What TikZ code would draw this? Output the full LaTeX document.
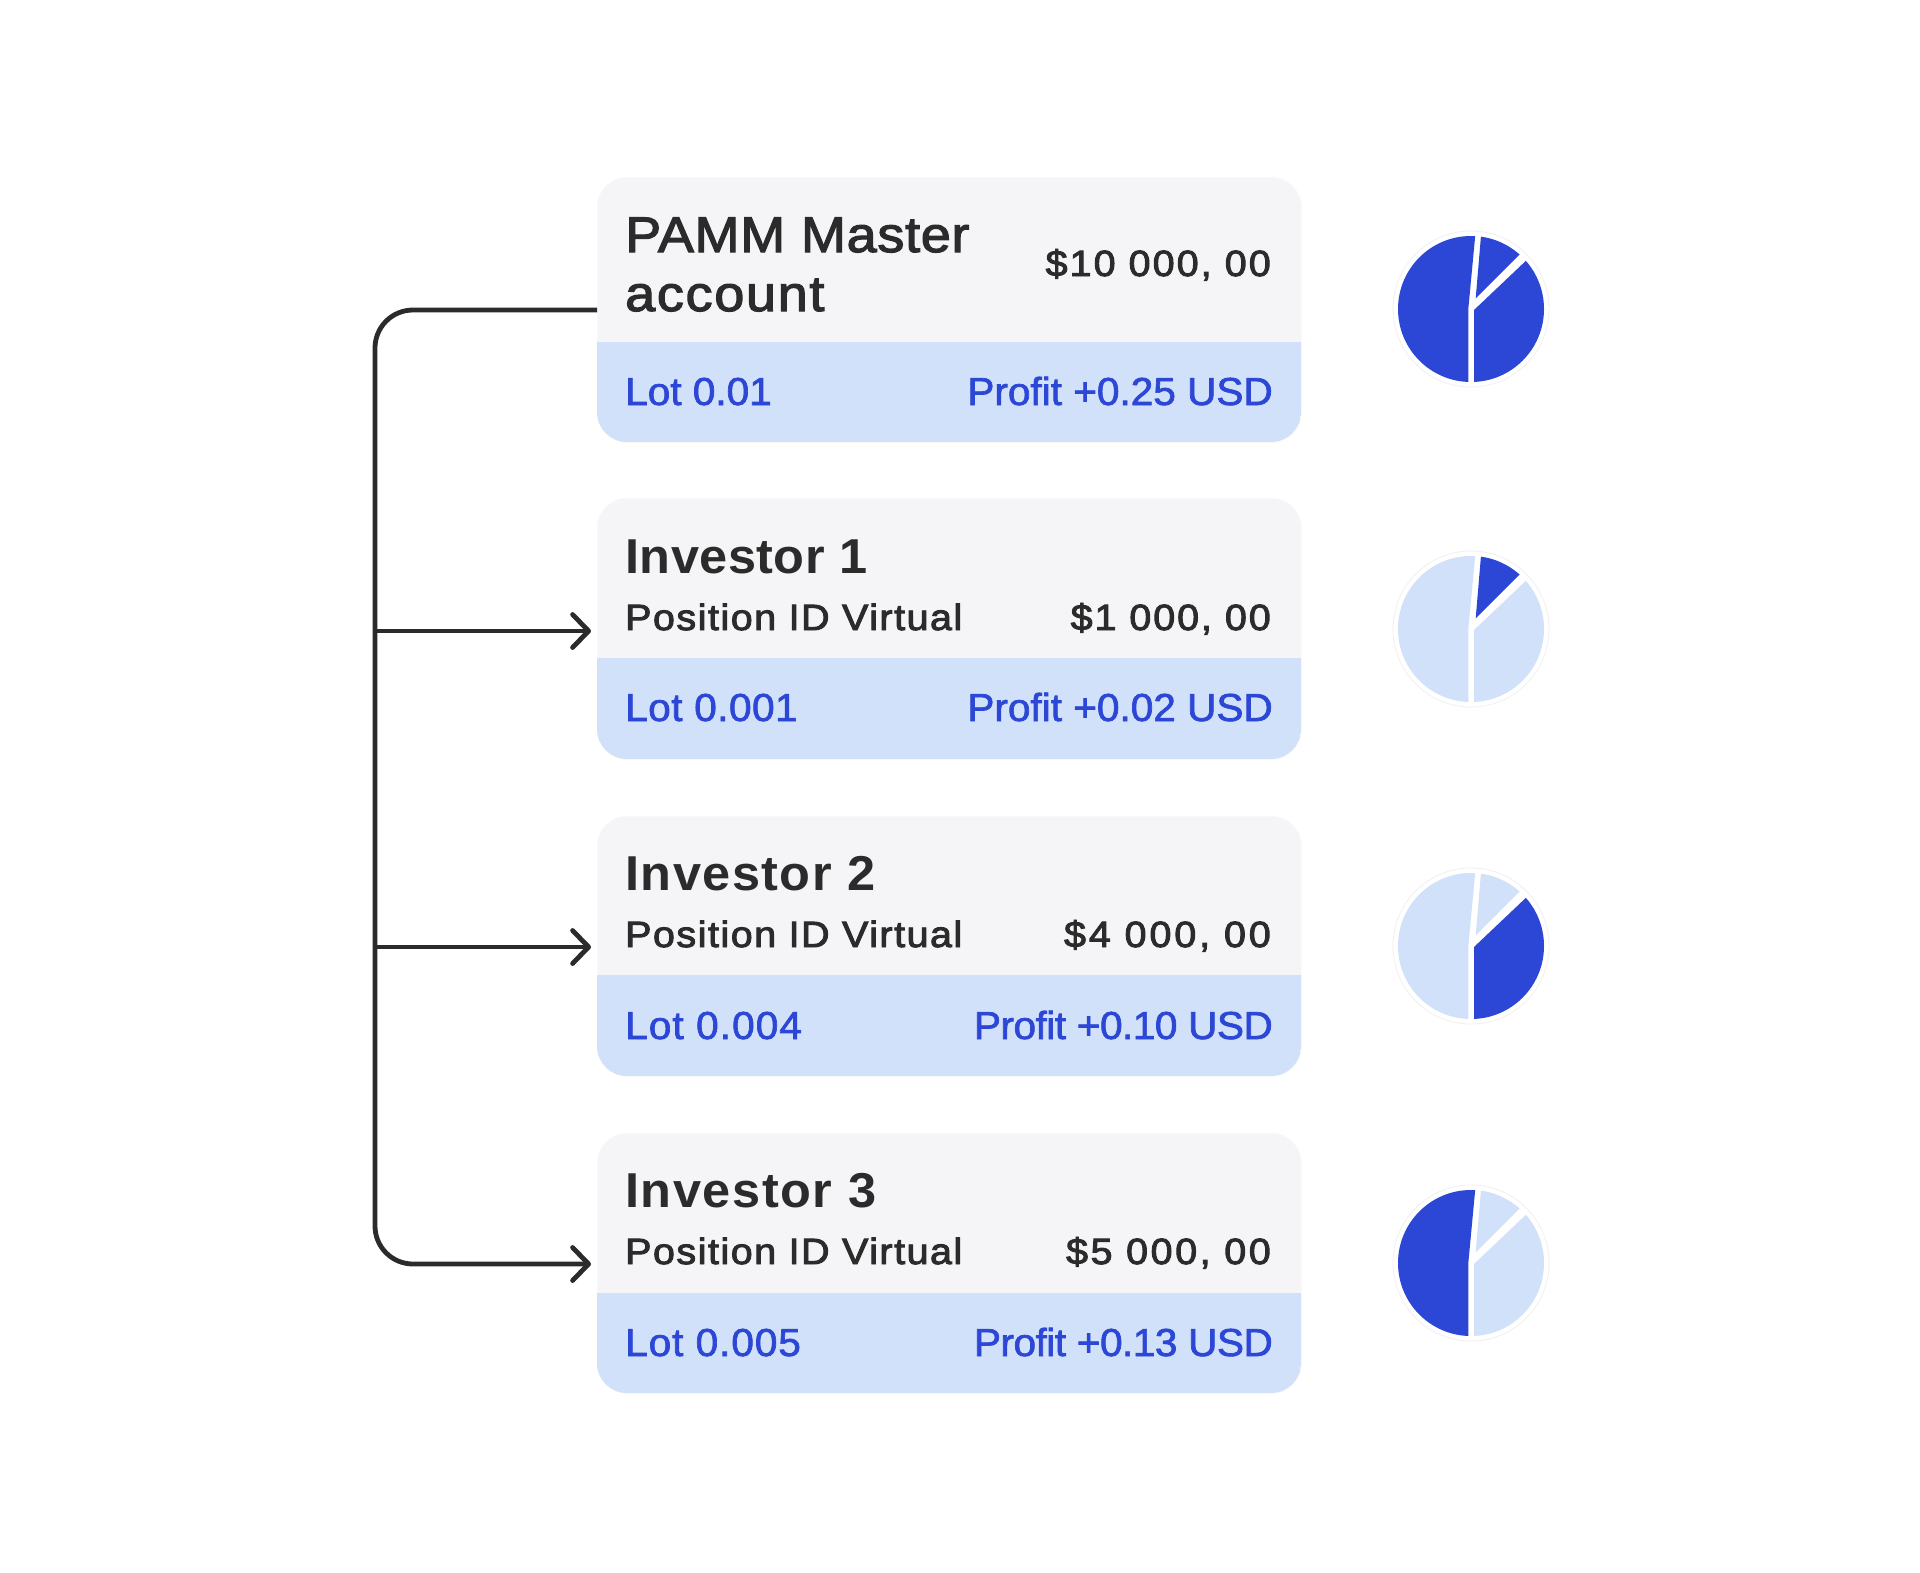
\documentclass[tikz,border=0pt]{standalone}
\usepackage{fontspec}
\setmainfont{Liberation Sans}
\newfontfamily\fhead[FakeStretch=1.08,LetterSpace=1.4,FakeBold=2.4]{Liberation Sans}
\newfontfamily\fbold[FakeStretch=1.03,LetterSpace=1]{Liberation Sans Bold}
\newfontfamily\fsub[FakeStretch=1.08,LetterSpace=4.2,FakeBold=2.6]{Liberation Sans}
\newfontfamily\flot[FakeStretch=1.04,FakeBold=1.8]{Liberation Sans}
\usetikzlibrary{arrows.meta}
\definecolor{cardbg}{HTML}{F5F5F8}
\definecolor{bandbg}{HTML}{D1E1F9}
\definecolor{deep}{HTML}{2C47D6}
\definecolor{ink}{HTML}{2B2B2B}
\newcommand{\track}[2]{{\addfontfeature{LetterSpace=#1}#2}}
\tikzset{
  cardbox/.style={draw=cardbg!70!white,line width=.6pt,fill=cardbg,rounded corners=30pt,minimum width=704pt,inner sep=0pt,anchor=north west},
  head/.style={font=\fhead\fontsize{50}{59}\selectfont,text=ink,anchor=base west,inner sep=0pt},
  inv/.style={font=\fbold\fontsize{49}{59}\selectfont,text=ink,anchor=base west,inner sep=0pt},
  sub/.style={font=\fsub\fontsize{36.5}{44}\selectfont,text=ink,anchor=base west,inner sep=0pt},
  amt/.style={font=\fsub\fontsize{36.5}{44}\selectfont,text=ink,anchor=base east,inner sep=0pt},
  lot/.style={font=\flot\fontsize{39}{47}\selectfont,text=deep,anchor=base west,inner sep=0pt},
  prof/.style={font=\flot\fontsize{39}{47}\selectfont,text=deep,anchor=base east,inner sep=0pt},
  wire/.style={draw=ink,line width=4.8pt},
  barb/.style={-{Straight Barb[length=16pt,width=33pt,line width=4.8pt,round]}}
}
% #1 name, #2 top, #3 band top, #4 bottom
\newcommand{\cardshape}[4]{
  \node[cardbox,minimum height=#4pt-#2pt] (#1) at (597,#2) {};
  \begin{scope}
    \clip[rounded corners=30pt] (597,#2) rectangle (1301,#4);
    \fill[bandbg] (597,#3) rectangle (1301,#4);
  \end{scope}
}
% #1 name, #2 centre y, #3 #4 #5 slice colours
\newcommand{\pieshape}[5]{
  \node[circle,draw=black!6,line width=.8pt,fill=white,minimum size=156pt,inner sep=0pt] (#1) at (1471,#2) {};
  \begin{scope}[shift={(1471,#2)}]
    \clip (0,0) circle (73pt);
    \fill[#3] (-2.7,90) -- (-2.7,0) -- (5.8,-90) -- (-100,-90) -- (-100,90) -- cycle;
    \fill[#4] (4.7,-10.7) -- (11.4,-90) -- (70,-90) -- (70,-76) -- cycle;
    \fill[#5] (3,90) -- (3,1) -- (80,-72) -- (100,-72) -- (100,100) -- (3,100) -- cycle;
  \end{scope}
}
\begin{document}
\begin{tikzpicture}[x=1pt,y=-1pt]
\useasboundingbox (0,0) rectangle (1920,1572);
\fill[white] (0,0) rectangle (1920,1572);

\cardshape{master}{177}{342}{442}
\cardshape{one}{498}{658}{759}
\cardshape{two}{816}{975}{1076}
\cardshape{three}{1133}{1293}{1393}

\node[head] (mt1) at (625,252) {PAMM Master};
\node[head] (mt2) at (625,311) {\track{3.4}{account}};
\node[amt] (ma) at (1271,276) {\track{5.8}{\$10 000, 00}};
\node[lot] (ml) at (625,405) {Lot 0.01};
\node[prof] (mp) at (1273,405) {Profit +0.25 USD};

\node[inv] (t1) at (625,573) {Investor 1};
\node[sub] (s1) at (625,630) {Position ID Virtual};
\node[amt] (a1) at (1271,630) {\track{5.4}{\$1 000, 00}};
\node[lot] (l1) at (625,721) {\track{1.2}{Lot 0.001}};
\node[prof] (p1) at (1273,721) {Profit +0.02 USD};

\node[inv] (t2) at (625,890) {\track{3}{Investor 2}};
\node[sub] (s2) at (625,947) {Position ID Virtual};
\node[amt] (a2) at (1271,947) {\track{8}{\$4 000, 00}};
\node[lot] (l2) at (625,1039) {\track{2.8}{Lot 0.004}};
\node[prof] (p2) at (1273,1039) {\track{-1.3}{Profit +0.10 USD}};

\node[inv] (t3) at (625,1207) {\track{3.2}{Investor 3}};
\node[sub] (s3) at (625,1264) {Position ID Virtual};
\node[amt] (a3) at (1271,1264) {\track{7.2}{\$5 000, 00}};
\node[lot] (l3) at (625,1356) {\track{2.4}{Lot 0.005}};
\node[prof] (p3) at (1273,1356) {\track{-1.3}{Profit +0.13 USD}};

\pieshape{pm}{309}{deep}{deep}{deep}
\pieshape{p1s}{629}{bandbg}{deep}{bandbg}
\pieshape{p2s}{946}{bandbg}{bandbg}{deep}
\pieshape{p3s}{1263}{deep}{bandbg}{bandbg}

\coordinate (src) at (597,310);
\coordinate (top) at (375,310);
\coordinate (j1) at (375,631);
\coordinate (j2) at (375,947);
\coordinate (bot) at (375,1264);
\coordinate (e1) at (591,631);
\coordinate (e2) at (591,947);
\coordinate (e3) at (591,1264);
\draw[wire,barb,rounded corners=38pt] (src) -- (top) -- (bot) -- (e3);
\draw[wire,barb] (j1) -- (e1);
\draw[wire,barb] (j2) -- (e2);
\end{tikzpicture}
\end{document}
